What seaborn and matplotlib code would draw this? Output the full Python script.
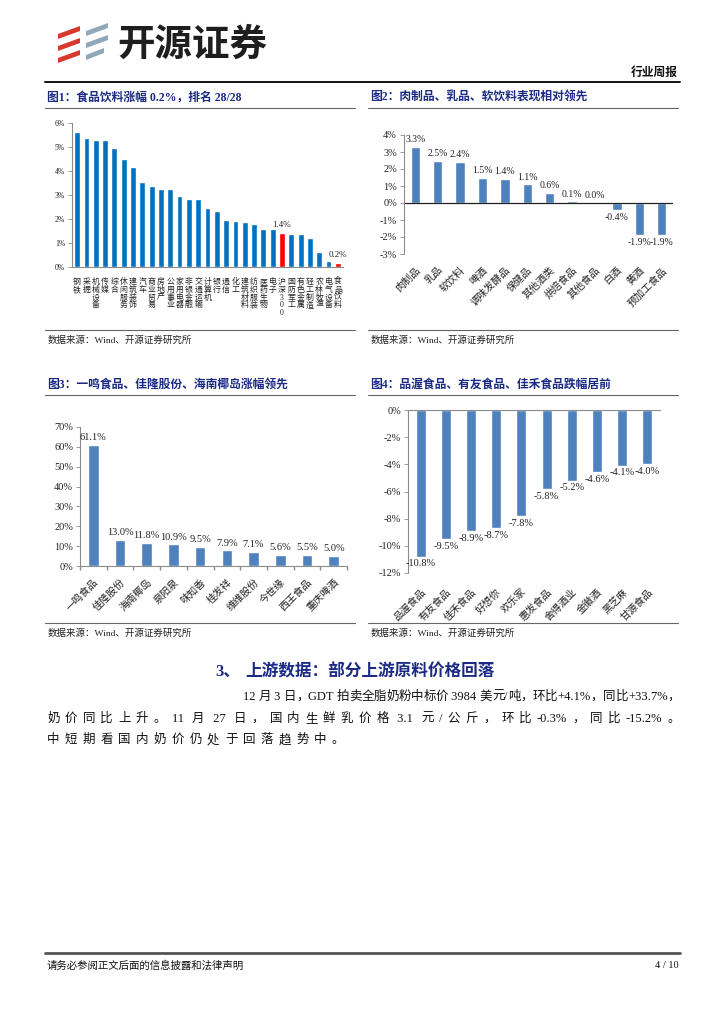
import re
import numpy as np
import pandas as pd
import seaborn as sns
import matplotlib.pyplot as plt
from matplotlib.patches import Polygon
from matplotlib.ticker import FuncFormatter, MultipleLocator

sns.set_theme(style="white")
plt.rcParams['font.family'] = ['Liberation Serif', 'Noto Sans CJK SC', 'DejaVu Sans']
plt.rcParams['axes.unicode_minus'] = False

# 图1 申万一级行业周涨跌幅 (%)
ind_names = ['钢铁', '采掘', '机械设备', '传媒', '综合', '休闲服务', '建筑装饰', '汽车',
             '商业贸易', '房地产', '公用事业', '家用电器', '非银金融', '交通运输', '计算机',
             '银行', '通信', '化工', '建筑材料', '纺织服装', '医药生物', '电子', '沪深300',
             '国防军工', '有色金属', '轻工制造', '农林牧渔', '电气设备', '食品饮料']
ind_chg = [5.62, 5.39, 5.31, 5.28, 4.94, 4.48, 4.16, 3.55, 3.37, 3.26, 3.26, 2.95, 2.85,
           2.82, 2.45, 2.34, 1.95, 1.92, 1.87, 1.80, 1.60, 1.60, 1.42, 1.37, 1.37, 1.22,
           0.64, 0.26, 0.17]
ind_marked = ['沪深300', '食品饮料']

# 图2 食品饮料子行业
sub_names = ['肉制品', '乳品', '软饮料', '啤酒', '调味发酵品', '保健品', '其他酒类',
             '烘焙食品', '其他食品', '白酒', '黄酒', '预加工食品']
sub_chg = [3.3, 2.5, 2.4, 1.5, 1.4, 1.1, 0.6, 0.1, 0.0, -0.4, -1.9, -1.9]

# 图3 涨幅前十
top_names = ['一鸣食品', '佳隆股份', '海南椰岛', '泉阳泉', '味知香', '桂发祥', '维维股份',
             '今世缘', '西王食品', '重庆啤酒']
top_chg = [61.1, 13.0, 11.8, 10.9, 9.5, 7.9, 7.1, 5.6, 5.5, 5.0]

# 图4 跌幅前十
bot_names = ['品渥食品', '有友食品', '佳禾食品', '好想你', '欢乐家', '惠发食品', '舍得酒业',
             '金徽酒', '黑芝麻', '甘源食品']
bot_chg = [-10.8, -9.5, -8.9, -8.7, -7.8, -5.8, -5.2, -4.6, -4.1, -4.0]

W, H = 724, 1024
NAVY = '#1B2A84'
BLUE = '#4F81BD'
SPINE = '#8C8C8C'
fig = plt.figure(figsize=(7.24, 10.24), dpi=100)


def px_axes(l, t, r, b):
    return fig.add_axes([l / W, 1 - b / H, (r - l) / W, (b - t) / H])


page = px_axes(0, 0, W, H)
page.set_xlim(0, W)
page.set_ylim(H, 0)
page.axis('off')

pct = FuncFormatter(lambda v, p: f'{v:.0f}%')


def style_axes(ax, ysize, left=True, bottom=True, top=False):
    ax.set_xlabel('')
    ax.set_ylabel('')
    for s in ax.spines.values():
        s.set_color(SPINE)
        s.set_linewidth(0.8)
    ax.spines['right'].set_visible(False)
    ax.spines['top'].set_visible(top)
    ax.spines['bottom'].set_visible(bottom)
    ax.spines['left'].set_visible(left)
    ax.yaxis.set_major_formatter(pct)
    ax.tick_params(axis='y', left=True, length=3, width=0.6, color=SPINE,
                   labelsize=ysize, pad=2, labelcolor='#222222')
    ax.tick_params(axis='x', bottom=False, pad=2)


def bar_labels(ax, vals, size, fmt='{:.1f}%'):
    for i, v in enumerate(vals):
        ax.annotate(fmt.format(v), (i, v), xytext=(0, 2 if v >= 0 else -2),
                    textcoords='offset points', ha='center',
                    va='bottom' if v >= 0 else 'top', fontsize=size, color='#222222')


# ---- 图1
ax1 = px_axes(72, 123, 343, 267)
df1 = pd.DataFrame({'name': ind_names, 'chg': ind_chg})
pal1 = ['#FF0000' if n in ind_marked else '#0070C0' for n in ind_names]
sns.barplot(data=df1, x='name', y='chg', hue='name', palette=pal1, legend=False,
            saturation=1, width=0.62, ax=ax1)
ax1.set_ylim(0, 6)
ax1.yaxis.set_major_locator(MultipleLocator(1))
style_axes(ax1, 5.5)
ax1.set_xticks(range(len(ind_names)))
ax1.set_xticklabels(['\n'.join(n) for n in ind_names], fontsize=5.7, linespacing=0.95,
                    va='top', color='#222222')
for n in ind_marked:
    i = ind_names.index(n)
    ax1.annotate(f'{ind_chg[i]:.1f}%', (i, ind_chg[i]), xytext=(0, 3),
                 textcoords='offset points', ha='center', va='bottom', fontsize=6.5)
ax1.set_xlim(-0.55, len(ind_names) - 0.45)

# ---- 图2
ax2 = px_axes(404, 135, 673, 254)
sns.barplot(x=sub_names, y=sub_chg, color=BLUE, saturation=1, width=0.42, ax=ax2)
ax2.set_ylim(-3, 4)
ax2.yaxis.set_major_locator(MultipleLocator(1))
style_axes(ax2, 7.5, bottom=False)
ax2.axhline(0, color='#222222', lw=0.9)
ax2.set_xticks(range(len(sub_names)))
ax2.set_xticklabels(sub_names, rotation=45, ha='right', rotation_mode='anchor',
                    fontsize=7.3, color='#222222')
bar_labels(ax2, sub_chg, 7)
ax2.set_xlim(-0.5, len(sub_names) - 0.5)

# ---- 图3
ax3 = px_axes(80, 427, 347, 566)
sns.barplot(x=top_names, y=top_chg, color=BLUE, saturation=1, width=0.4, ax=ax3)
ax3.set_ylim(0, 70)
ax3.yaxis.set_major_locator(MultipleLocator(10))
style_axes(ax3, 7.5)
ax3.set_xticks(range(len(top_names)))
ax3.set_xticklabels(top_names, rotation=45, ha='right', rotation_mode='anchor',
                    fontsize=7.3, color='#222222')
ax3.set_xticks(np.arange(-0.5, len(top_names)), minor=True)
ax3.tick_params(axis='x', which='minor', bottom=True, length=3, color=SPINE)
bar_labels(ax3, top_chg, 7.5)
ax3.set_xlim(-0.5, len(top_names) - 0.5)

# ---- 图4
ax4 = px_axes(408, 410, 660, 573)
sns.barplot(x=bot_names, y=bot_chg, color=BLUE, saturation=1, width=0.4, ax=ax4)
ax4.set_ylim(-12, 0)
ax4.yaxis.set_major_locator(MultipleLocator(2))
style_axes(ax4, 7.5, bottom=False, top=True)
ax4.set_xticks(range(len(bot_names)))
ax4.set_xticklabels(bot_names, rotation=45, ha='right', rotation_mode='anchor',
                    fontsize=7.3, color='#222222')
ax4.tick_params(axis='x', pad=4)
bar_labels(ax4, bot_chg, 7.5)
ax4.set_xlim(-0.5, len(bot_names) - 0.5)

# ---- page furniture
cjk = ['Liberation Serif', 'Noto Sans CJK SC']
for pts, c in [([(58, 34), (80, 26), (80, 31), (58, 39)], '#D8392E'),
               ([(58, 46), (80, 38), (80, 43), (58, 51)], '#D8392E'),
               ([(58, 58), (80, 50), (80, 55), (58, 63)], '#D8392E'),
               ([(86, 31), (108, 23), (108, 28), (86, 36)], '#8FA8BA'),
               ([(86, 43), (108, 35), (108, 40), (86, 48)], '#8FA8BA'),
               ([(86, 55), (104, 48), (104, 53), (86, 60)], '#8FA8BA')]:
    page.add_patch(Polygon(pts, closed=True, color=c, lw=0))
page.text(117, 44, '开源证券', fontsize=27, fontweight='bold', color='#1E1E1E',
          family=['Noto Sans CJK SC'], va='center', ha='left')
page.text(678, 73, '行业周报', fontsize=8.5, fontweight='bold', family=cjk,
          va='center', ha='right', color='#111111')
page.plot([45, 680], [82, 82], color='#111111', lw=1.4)

titles = [(47, 98, '图1：食品饮料涨幅 0.2%，排名 28/28'),
          (370, 98, '图2：肉制品、乳品、软饮料表现相对领先'),
          (47, 385, '图3：一鸣食品、佳隆股份、海南椰岛涨幅领先'),
          (370, 385, '图4：品渥食品、有友食品、佳禾食品跌幅居前')]
for x, y, s in titles:
    page.text(x, y, s, fontsize=8.5, fontweight='bold', color=NAVY, family=cjk,
              va='center', ha='left')
    x0 = 45 if x < 300 else 368
    page.plot([x0, x0 + 310], [y + 10, y + 10], color='#666666', lw=0.8)
    page.plot([x0, x0 + 310], [y + 232 if y < 300 else y + 238] * 2, color='#666666', lw=0.8)
    page.text(x + 1, (y + 242 if y < 300 else y + 248), '数据来源：Wind、开源证券研究所',
              fontsize=6.8, family=cjk, color='#222222', va='center')

page.text(215, 672, '3、', fontsize=12, fontweight='bold', color=NAVY, family=cjk, va='center')
page.text(245, 672, '上游数据：部分上游原料价格回落', fontsize=12, fontweight='bold',
          color=NAVY, family=cjk, va='center')

renderer = fig.canvas.get_renderer()


def spaced_line(x0, x1, y, s, size=9, gap=None):
    toks = re.findall(r'[\x00-\x7f]+|.', s)
    arts = [page.text(0, y, t, fontsize=size, family=cjk, color='#111111', va='center')
            for t in toks]
    widths = [a.get_window_extent(renderer).width for a in arts]
    if gap is None:
        gap = (x1 - x0 - sum(widths)) / (len(toks) - 1)
    x = x0
    for a, w in zip(arts, widths):
        a.set_x(x)
        x += w + gap
    return gap


spaced_line(243, 680, 697, '12 月 3 日，GDT 拍卖全脂奶粉中标价 3984 美元/吨，环比+4.1%，同比+33.7%，')
g = spaced_line(47, 680, 719, '奶价同比上升。11 月 27 日，国内生鲜乳价格 3.1 元/公斤，环比-0.3%，同比-15.2%。')
spaced_line(47, 680, 740, '中短期看国内奶价仍处于回落趋势中。', gap=g)

page.plot([45, 680], [953, 953], color='#555555', lw=2)
page.text(47, 966, '请务必参阅正文后面的信息披露和法律声明', fontsize=7.5, family=cjk,
          color='#111111', va='center')
page.text(679, 966, '4 / 10', fontsize=7.5, family=cjk, color='#111111', va='center', ha='right')

fig.savefig('out.png', dpi=100)
